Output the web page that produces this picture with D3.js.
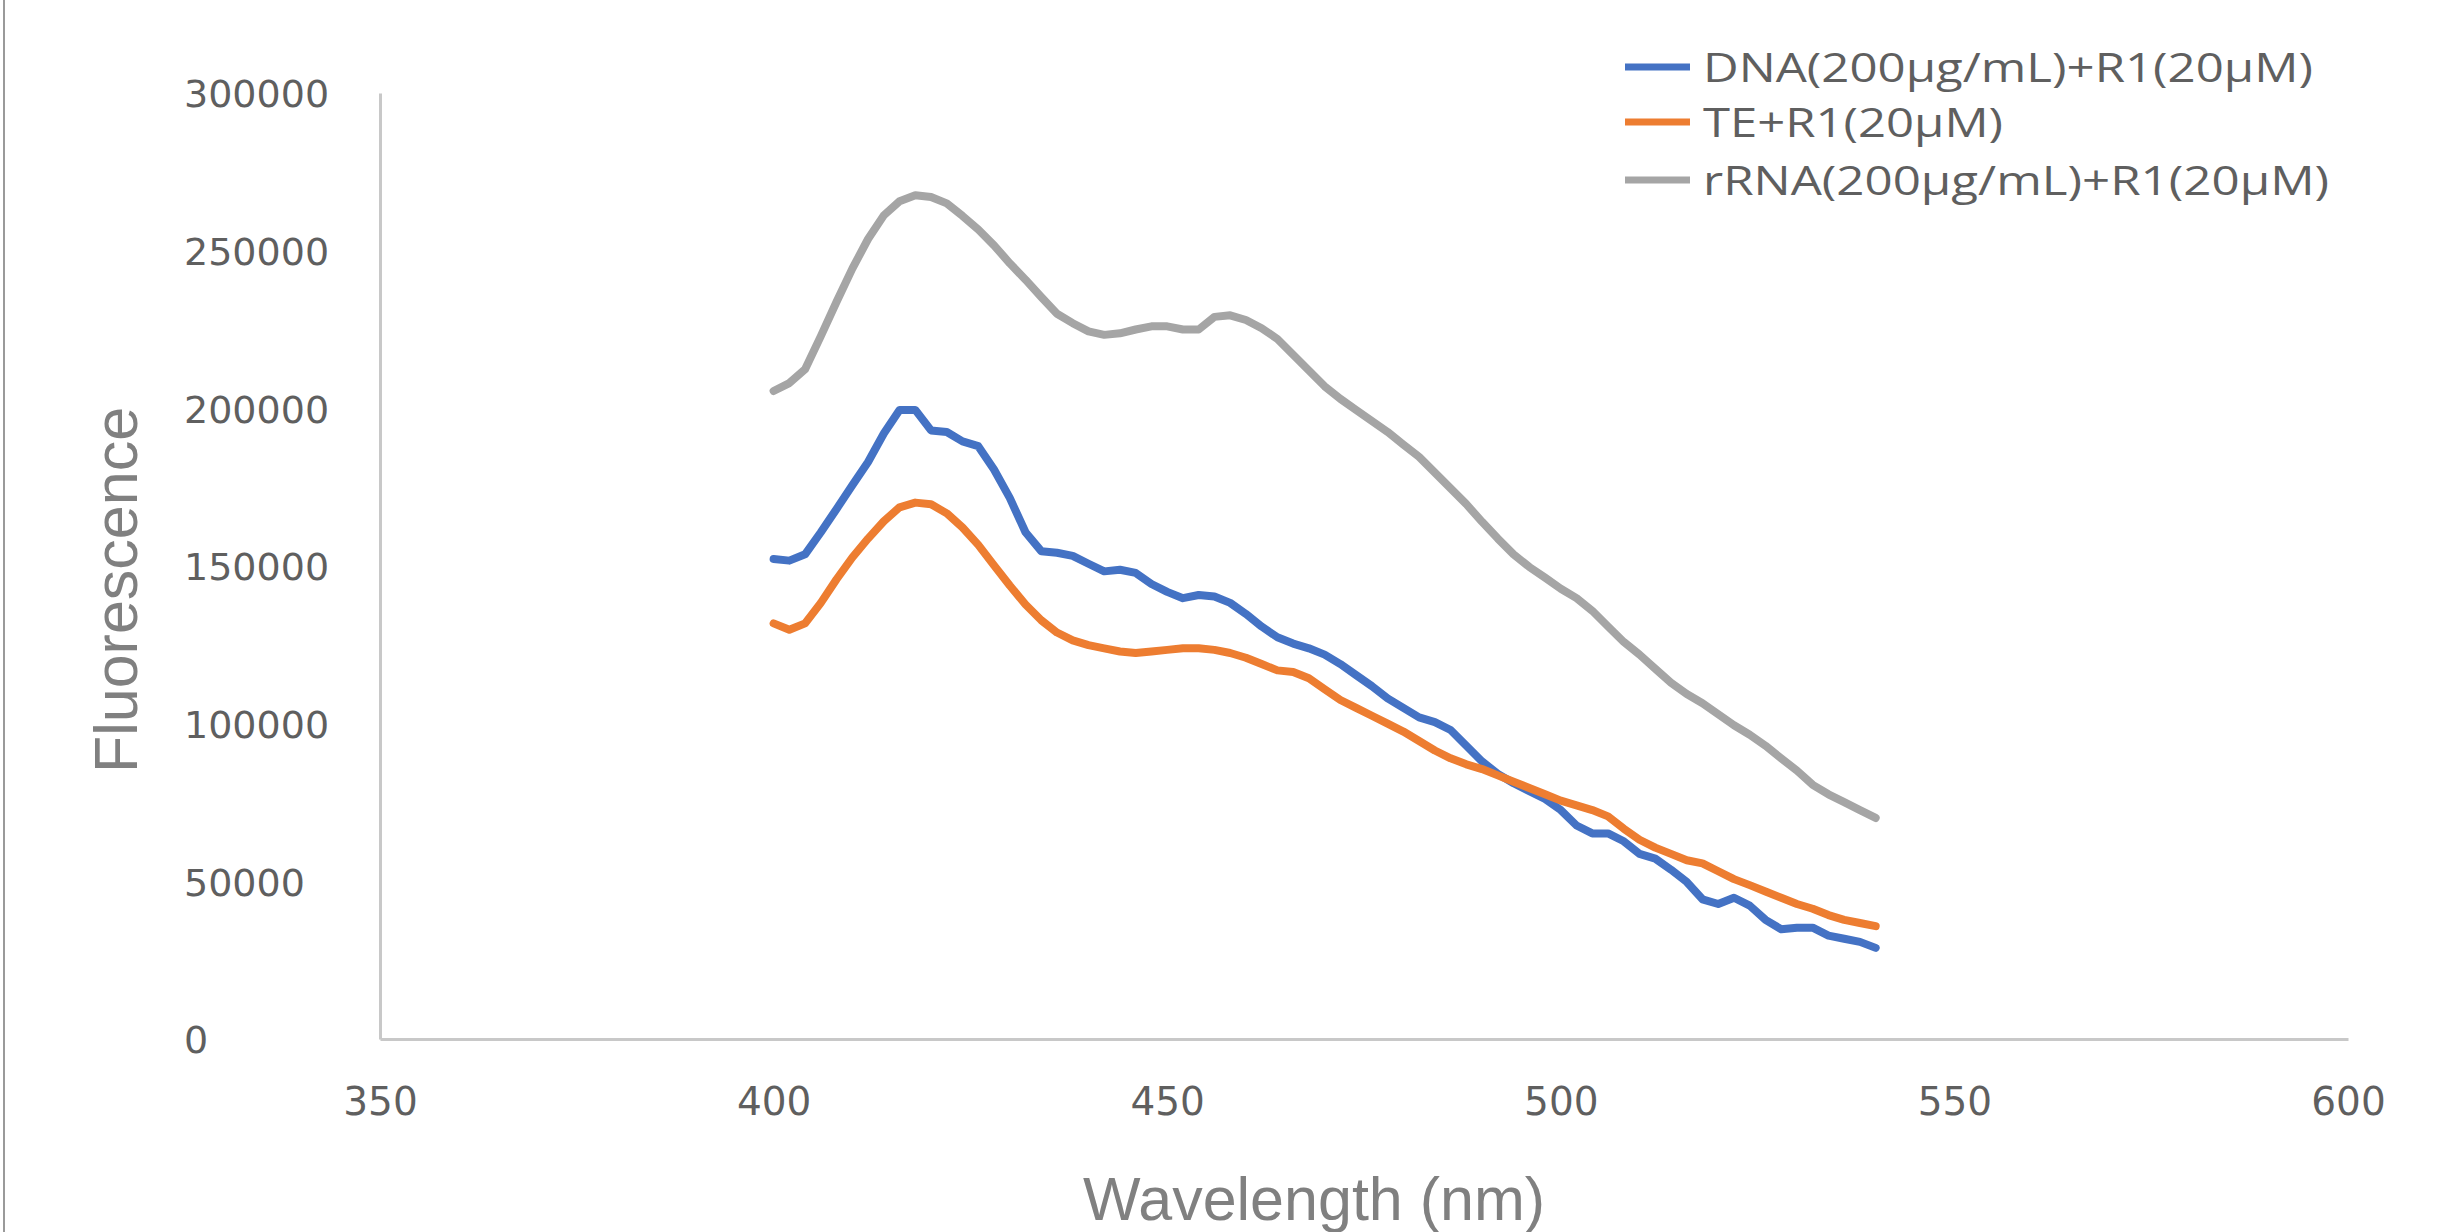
<!DOCTYPE html>
<html>
<head>
<meta charset="utf-8">
<script src="https://cdn.jsdelivr.net/npm/d3@7"></script>
<style>
html,body{margin:0;padding:0;background:#fff;}
svg{display:block;}
</style>
</head>
<body>
<svg id="chart" width="2452" height="1232"></svg>
<script>
const wavelengths = [400,402,404,406,408,410,412,414,416,418,420,422,424,426,428,430,432,434,436,438,440,442,444,446,448,450,452,454,456,458,460,462,464,466,468,470,472,474,476,478,480,482,484,486,488,490,492,494,496,498,500,502,504,506,508,510,512,514,516,518,520,522,524,526,528,530,532,534,536,538,540];

const dnaValues = [152200,151700,153700,160700,168100,175600,183000,192000,199500,199500,193000,192500,189500,188000,180600,171600,160700,154700,154200,153200,150700,148300,148800,147800,144300,141800,139800,140800,140300,138300,134800,130800,127400,125400,123900,121900,118900,115400,111900,108000,105000,102000,100500,98000,93000,88000,84100,81100,78600,76100,72600,67700,65200,65200,62700,58700,57200,53700,49800,44300,42800,44800,42300,37800,34800,35300,35300,32800,31800,30800,28900];

const teValues = [131800,129800,131800,138300,145800,152700,158700,164200,168600,170100,169600,166700,162200,156700,150200,143800,137800,132800,128900,126400,124900,123900,122900,122400,122900,123400,123900,123900,123400,122400,120900,118900,116900,116400,114400,110900,107500,105000,102500,100000,97500,94500,91500,89000,87100,85600,83600,81600,79600,77600,75600,74100,72600,70600,66700,63200,60700,58700,56700,55700,53200,50700,48800,46800,44800,42800,41300,39300,37800,36800,35800];

const rrnaValues = [205500,208000,212400,222900,233800,244300,253700,261200,265700,267600,267000,265000,261000,256700,251700,246000,240800,235300,230000,227000,224400,223300,223800,225000,226000,226000,225000,225000,229000,229500,228000,225400,222000,217000,212000,207000,203000,199500,196000,192500,188500,184600,179600,174600,169600,164000,158700,153700,149700,146300,142800,139800,135800,130800,125900,121900,117400,113000,109400,106500,103000,99500,96500,93000,89000,85100,80600,77600,75100,72600,70100];

const seriesNames = ["DNA(200µg/mL)+R1(20µM)", "TE+R1(20µM)", "rRNA(200µg/mL)+R1(20µM)"];
const seriesColors = ["#4472C4", "#ED7D31", "#A5A5A5"];
const xTicks = [350,400,450,500,550,600];
const yTicks = [0,50000,100000,150000,200000,250000,300000];
const xTitle = "Wavelength (nm)";
const yTitle = "Fluorescence";

const svg = d3.select("#chart");

// left frame edge
svg.append("line").attr("x1",4).attr("x2",4).attr("y1",0).attr("y2",1232)
  .attr("stroke","#9a9a9a").attr("stroke-width",2);

const x = d3.scaleLinear().domain([350,600]).range([380,2348]);
const y = d3.scaleLinear().domain([0,300000]).range([1039,93]);

// Y axis
const gy = svg.append("g").attr("transform","translate(380,0)")
  .call(d3.axisLeft(y).tickValues(yTicks).tickSize(0).tickSizeOuter(0).tickFormat(d3.format("d")));
gy.select(".domain").attr("stroke","#c8c8c8").attr("stroke-width",3);
gy.selectAll("text").attr("x",-196).attr("dy","0.36em").attr("text-anchor","start")
  .attr("fill","#5f5f5f").style("font-family","'DejaVu Sans'").style("font-size","38px");

// X axis
const gx = svg.append("g").attr("transform","translate(0,1039)")
  .call(d3.axisBottom(x).tickValues(xTicks).tickSize(0).tickSizeOuter(0).tickFormat(d3.format("d")));
gx.select(".domain").attr("stroke","#c8c8c8").attr("stroke-width",3);
gx.selectAll("text").attr("y",76).attr("dy","0").attr("text-anchor","middle")
  .attr("fill","#5f5f5f").style("font-family","'DejaVu Sans'").style("font-size","39px");

// Titles
svg.append("text").attr("x",1314).attr("y",1220).attr("text-anchor","middle")
  .attr("fill","#808080").style("font-family","'Liberation Sans'").style("font-size","61px")
  .text(xTitle);
svg.append("text").attr("transform","translate(137,590) rotate(-90)").attr("text-anchor","middle")
  .attr("fill","#808080").style("font-family","'Liberation Sans'").style("font-size","61px")
  .text(yTitle);

// Lines
const allSeries = [dnaValues, teValues, rrnaValues];
const line = d3.line().x((d,i)=>x(wavelengths[i])).y(d=>y(d));
allSeries.forEach((vals,k)=>{
  svg.append("path").datum(vals).attr("d",line)
    .attr("fill","none").attr("stroke",seriesColors[k]).attr("stroke-width",8)
    .attr("stroke-linejoin","round").attr("stroke-linecap","round");
});

// Legend
const legY = [67,122,180];
const legW = [610,300,626];
seriesNames.forEach((name,k)=>{
  svg.append("line").attr("x1",1625).attr("x2",1690).attr("y1",legY[k]).attr("y2",legY[k])
    .attr("stroke",seriesColors[k]).attr("stroke-width",7);
  svg.append("text").attr("x",1703).attr("y",legY[k]+15)
    .attr("fill","#5f5f5f").style("font-family","'Open Sans'").style("font-size","41px")
    .attr("textLength",legW[k]).attr("lengthAdjust","spacingAndGlyphs")
    .text(name);
});
</script>
</body>
</html>
